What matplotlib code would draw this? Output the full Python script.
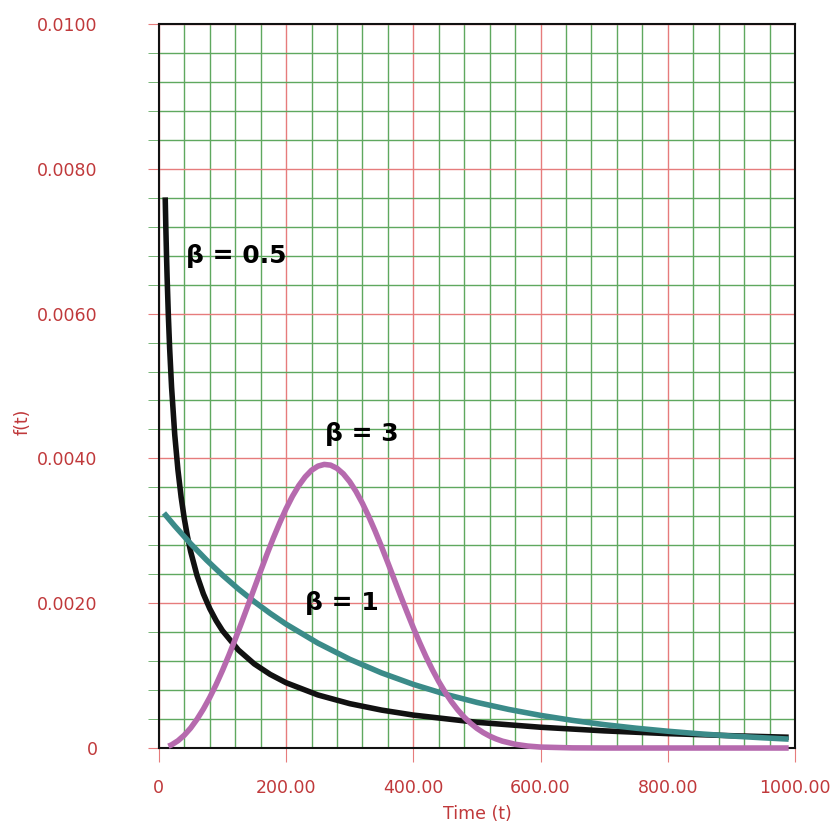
import matplotlib
matplotlib.use('Agg')
import matplotlib.pyplot as plt

# weibull pdf curves (eta about 300)
t_b05 = [10, 11, 12, 13, 15, 17, 20, 25, 30, 35, 40, 45, 50, 60, 70, 80, 90,
         100, 125, 150, 175, 200, 250, 300, 350, 400, 500, 600, 700, 800, 900, 990]
f_b05 = [0.007605, 0.007187, 0.006823, 0.006502, 0.005960, 0.005518, 0.004986,
         0.004326, 0.003842, 0.003468, 0.003168, 0.002922, 0.002714, 0.002383,
         0.002129, 0.001926, 0.001760, 0.001621, 0.001354, 0.001162, 0.001017,
         0.000902, 0.000733, 0.000613, 0.000524, 0.000455, 0.000355, 0.000287,
         0.000237, 0.000199, 0.000170, 0.000149]

t_b1 = [8, 25, 50, 75, 100, 125, 150, 175, 200, 250, 300, 350, 400, 450, 500,
        550, 600, 650, 700, 750, 800, 850, 900, 950, 990]
f_b1 = [0.003245, 0.003067, 0.002822, 0.002596, 0.002388, 0.002197, 0.002022,
        0.001860, 0.001711, 0.001449, 0.001226, 0.001038, 0.000879, 0.000744,
        0.000630, 0.000533, 0.000451, 0.000382, 0.000323, 0.000274, 0.000232,
        0.000196, 0.000166, 0.000141, 0.000123]

t_b3 = [15, 20, 30, 40, 50, 60, 70, 80, 90, 100, 110, 120, 130, 140, 150, 160,
        170, 180, 190, 200, 210, 220, 230, 240, 250, 260, 270, 280, 290, 300,
        310, 320, 330, 340, 350, 360, 370, 380, 390, 400, 410, 420, 430, 440,
        450, 460, 470, 480, 490, 500, 510, 520, 530, 540, 560, 580, 600, 650,
        700, 800, 900, 990]
f_b3 = [0.000025, 0.000044, 0.000100, 0.000177, 0.000276, 0.000397, 0.000538,
        0.000698, 0.000876, 0.001071, 0.001280, 0.001501, 0.001731, 0.001967,
        0.002206, 0.002444, 0.002677, 0.002901, 0.003111, 0.003305, 0.003477,
        0.003625, 0.003745, 0.003836, 0.003893, 0.003917, 0.003907, 0.003863,
        0.003787, 0.003679, 0.003542, 0.003380, 0.003197, 0.002996, 0.002782,
        0.002558, 0.002330, 0.002102, 0.001879, 0.001661, 0.001455, 0.001260,
        0.001081, 0.000917, 0.000770, 0.000639, 0.000525, 0.000426, 0.000342,
        0.000271, 0.000213, 0.000165, 0.000126, 0.000095, 0.000052, 0.000027,
        0.000013, 0.000002, 0.0, 0.0, 0.0, 0.0]

x_major = [0, 200, 400, 600, 800, 1000]
x_labels = ['0', '200.00', '400.00', '600.00', '800.00', '1000.00']
y_major = [0, 0.002, 0.004, 0.006, 0.008, 0.010]
y_labels = ['0', '0.0020', '0.0040', '0.0060', '0.0080', '0.0100']

red = '#c0393b'
green = '#5fa85f'
pink = '#e67c7c'

fig = plt.figure(figsize=(8.36, 8.27), dpi=100)
ax = fig.add_axes([0.190, 0.0955, 0.761, 0.8755])

style = dict(lw=4.0, solid_capstyle='butt', solid_joinstyle='round')
ax.plot(t_b05, f_b05, color='#111111', zorder=5, **style)
ax.plot(t_b1, f_b1, color='#3b8b89', zorder=6, **style)
ax.plot(t_b3, f_b3, color='#b66aae', zorder=7, clip_on=False, **style)

ax.set_xlim(0, 1000)
ax.set_ylim(0, 0.01)

ax.set_xticks(x_major)
ax.set_xticklabels(x_labels)
ax.set_yticks(y_major)
ax.set_yticklabels(y_labels)
ax.set_xticks([v for v in range(0, 1001, 40) if v % 200], minor=True)
ax.set_yticks([i * 0.0004 for i in range(26) if i % 5], minor=True)

ax.grid(which='minor', color=green, lw=1.0, zorder=1)
ax.grid(which='major', color=pink, lw=1.0, zorder=2)
ax.set_axisbelow(True)

ax.tick_params(axis='x', which='major', length=10, color=pink, pad=12,
               labelsize=12.5, labelcolor=red)
ax.tick_params(axis='x', which='minor', length=0)
ax.tick_params(axis='y', which='major', length=8, color=pink, pad=36,
               labelsize=12.5, labelcolor=red)
ax.tick_params(axis='y', which='minor', length=8, color=green)

for s in ax.spines.values():
    s.set_color('#111111')
    s.set_linewidth(1.5)

ax.set_xlabel('Time (t)', color=red, fontsize=12.5, labelpad=6)
ax.set_ylabel('f(t)', color=red, fontsize=12.5)
ax.yaxis.set_label_coords(-0.2, 0.45)

ax.text(42, 0.0068, 'β = 0.5', fontsize=18, fontweight='bold', ha='left', va='center', zorder=8)
ax.text(261, 0.00434, 'β = 3', fontsize=18, fontweight='bold', ha='left', va='center', zorder=8)
ax.text(229, 0.0020, 'β = 1', fontsize=18, fontweight='bold', ha='left', va='center', zorder=8)

fig.savefig('out.png', dpi=100, facecolor='white')
